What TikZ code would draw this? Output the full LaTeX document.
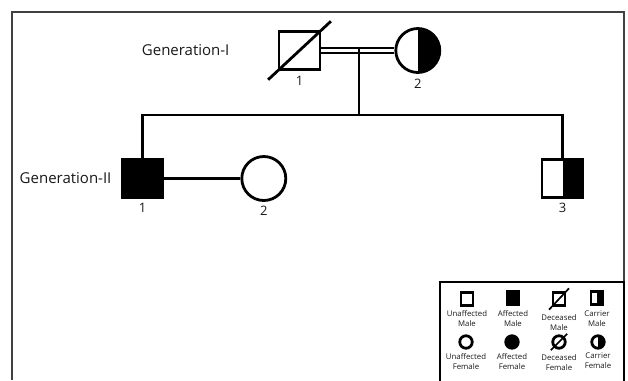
\documentclass[tikz,border=0pt]{standalone}
\usepackage{fontspec}
\setmainfont{Open Sans}
\usepackage{tikz}
\usetikzlibrary{positioning, calc}

\begin{document}
\begin{tikzpicture}[
    x=1pt, y=-1pt, % pixel-like units, y runs down
    every node/.style={font=\fontsize{15}{18}\selectfont, text=black!90},
    line/.style={line width=2.8pt},
    male/.style={rectangle, draw, line width=2.8pt, minimum width=41pt,
                 minimum height=38pt, inner sep=0pt},
    female/.style={circle, draw, line width=2.8pt, minimum size=44pt, inner sep=0pt},
    affected/.style={fill=black},
    carrier/.style={path picture={\fill[black] (path picture bounding box.north)
                    rectangle (path picture bounding box.south east);}},
    num/.style={font=\fontsize{13}{15}\selectfont, inner sep=0pt},
    lmale/.style={rectangle, draw, line width=2.4pt, minimum width=12pt,
                  minimum height=13pt, inner sep=0pt},
    lfemale/.style={circle, draw, line width=2.8pt, minimum size=12.5pt, inner sep=0pt},
    ltext/.style={font=\fontsize{7.8}{10}\selectfont, align=center, inner sep=0pt},
    frame/.style={line width=1.4pt, draw=black!75}
]
\useasboundingbox (0,0) rectangle (628,380);

% Frame
\draw[frame] (12,380) |- (624,12) -- (624,380);

% Generation I
\node[male, label={[num, label distance=5pt]below:1}] (gI1) at (299.5,50.5) {};
\node[female, carrier, right=73pt of gI1, label={[num, label distance=5pt]below:2}] (gI2) {};
\node[left=48pt of gI1, inner sep=0pt] (genI) {Generation-I};
\draw[line, shorten <=-13pt, shorten >=-13pt] (gI1.south west) -- (gI1.north east);
\draw[line width=2pt, double, double distance=2.6pt] (gI1.east) -- (gI2.west);

% Generation II
\node[male, affected, label={[num, label distance=4pt]below:1}] (gII1) at (142.5,178.5) {};
\node[female, right=76pt of gII1, label={[num, label distance=4pt]below:2}] (gII2) {};
\node[male, carrier, label={[num, label distance=4pt]below:3}] (gII3) at (562.5,178.5) {};
\node[left=9pt of gII1, inner sep=0pt] (genII) {Generation-II};

% Lines of descent
\coordinate (mate) at (359,49);
\coordinate (sib) at (359,115);
\draw[line] (mate) -- (sib);
\draw[line] (gII1.north) |- (sib) -| (gII3.north);
\draw[line] (gII1.east) -- (gII2.west);

% Legend
\draw[line width=1.3pt] (440,282) rectangle (624,382);
\node[lmale] (lum) at (467,299) {};
\node[lmale, fill=black] (lam) at (513,298) {};
\node[lmale] (ldm) at (559,299) {};
\node[lmale, carrier] (lcm) at (597,298) {};
\draw[line width=1.7pt, shorten <=-4pt, shorten >=-4pt] (ldm.south west) -- (ldm.north east);
\node[ltext, below=4pt of lum] (lumt) {Unaffected\\Male};
\node[ltext, below=5pt of lam] (lamt) {Affected\\Male};
\node[ltext, below=8pt of ldm] (ldmt) {Deceased\\Male};
\node[ltext, below=5pt of lcm] (lcmt) {Carrier\\Male};

\node[lfemale] (luf) at (466,342) {};
\node[lfemale, fill=black] (laf) at (512,342) {};
\node[lfemale] (ldf) at (559,342) {};
\node[lfemale, carrier] (lcf) at (598,342) {};
\draw[line width=1.7pt, shorten <=-4pt, shorten >=-4pt] (ldf.south west) -- (ldf.north east);
\node[ltext, below=4pt of luf] (luft) {Unaffected\\Female};
\node[ltext, below=4pt of laf] (laft) {Affected\\Female};
\node[ltext, below=5pt of ldf] (ldft) {Deceased\\Female};
\node[ltext, below=3pt of lcf] (lcft) {Carrier\\Female};

\end{tikzpicture}
\end{document}
